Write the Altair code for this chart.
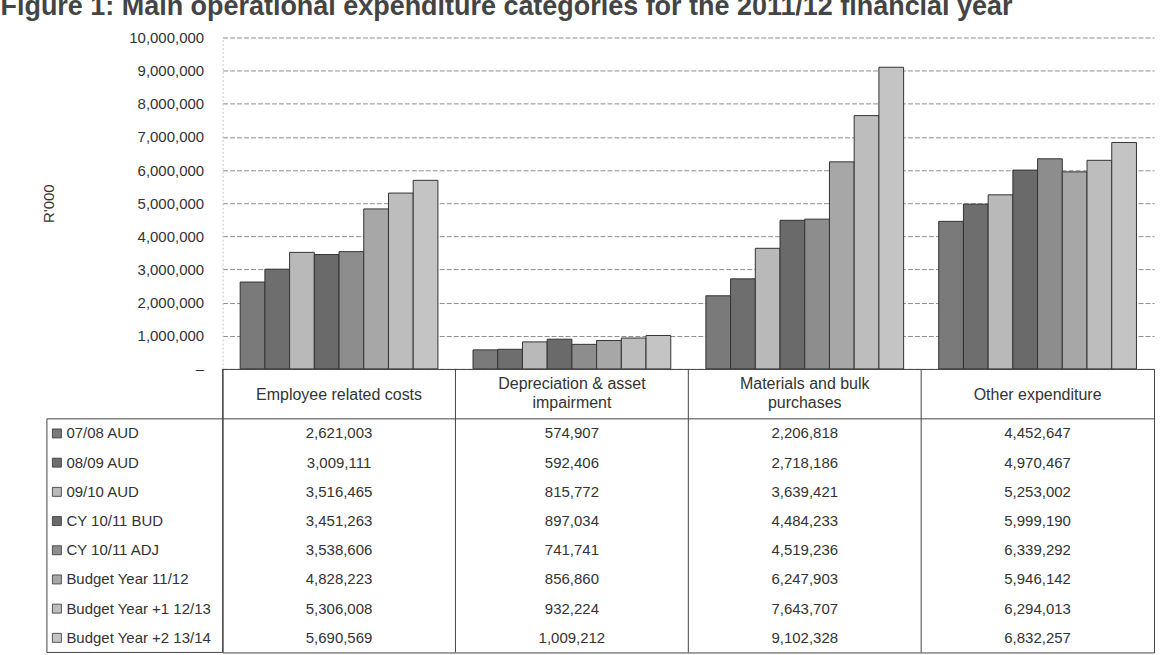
import altair as alt
import pandas as pd

TITLE = "Figure 1:  Main operational expenditure categories for the 2011/12 financial year"
CATEGORIES = [
    "Employee related costs",
    "Depreciation & asset impairment",
    "Materials and bulk purchases",
    "Other expenditure",
]
HEADER_LINES = [
    ["Employee related costs"],
    ["Depreciation & asset", "impairment"],
    ["Materials and bulk", "purchases"],
    ["Other expenditure"],
]
SERIES = [
    "07/08 AUD",
    "08/09 AUD",
    "09/10 AUD",
    "CY 10/11 BUD",
    "CY 10/11 ADJ",
    "Budget Year 11/12",
    "Budget Year +1 12/13",
    "Budget Year +2 13/14",
]
AUD_0708 = [2621003, 574907, 2206818, 4452647]
AUD_0809 = [3009111, 592406, 2718186, 4970467]
AUD_0910 = [3516465, 815772, 3639421, 5253002]
CY_BUD = [3451263, 897034, 4484233, 5999190]
CY_ADJ = [3538606, 741741, 4519236, 6339292]
BY_1112 = [4828223, 856860, 6247903, 5946142]
BY1_1213 = [5306008, 932224, 7643707, 6294013]
BY2_1314 = [5690569, 1009212, 9102328, 6832257]
SERIES_VALUES = [AUD_0708, AUD_0809, AUD_0910, CY_BUD, CY_ADJ, BY_1112, BY1_1213, BY2_1314]
COLORS = ["#7a7a7a", "#6e6e6e", "#b9b9b9", "#6a6a6a", "#8d8d8d", "#a7a7a7", "#bdbdbd", "#c4c4c4"]
Y_TICKS = [0, 1000000, 2000000, 3000000, 4000000, 5000000, 6000000, 7000000, 8000000, 9000000, 10000000]

rows = []
for s, vals in zip(SERIES, SERIES_VALUES):
    for c, v in zip(CATEGORIES, vals):
        rows.append({"category": c, "series": s, "value": v})
df = pd.DataFrame(rows)
series_df = pd.DataFrame({"series": SERIES})
cat_df = pd.DataFrame({"category": CATEGORIES})
first_row_df = pd.DataFrame({"series": SERIES[:1]})

W = 933
BAR_H = 332
TABLE_H = 284
TEXT = "#333333"

color = alt.Color("series:N", sort=SERIES, scale=alt.Scale(domain=SERIES, range=COLORS), legend=None)

# ---------- bar chart ----------
bars = alt.Chart(df).mark_bar(stroke="#333333", strokeWidth=1).encode(
    x=alt.X("category:N", sort=CATEGORIES, scale=alt.Scale(paddingInner=0, paddingOuter=0), axis=None),
    xOffset=alt.XOffset("series:N", sort=SERIES, scale=alt.Scale(paddingInner=0, paddingOuter=0.71)),
    y=alt.Y(
        "value:Q",
        scale=alt.Scale(domain=[0, 10000000], nice=False),
        axis=alt.Axis(
            values=Y_TICKS,
            labelExpr="datum.value == 0 ? '\u2013\u00a0\u00a0' : format(datum.value, ',')",
            labelFontSize=15,
            labelColor=TEXT,
            labelPadding=19,
            ticks=False,
            tickSize=0,
            domain=True,
            domainColor="#c8c8c8",
            domainDash=[2, 2],
            grid=True,
            gridColor="#8f8f8f",
            gridDash=[5, 2],
            gridWidth=1,
            title="R'000",
            titleFontSize=15,
            titleFontWeight="normal",
            titleColor=TEXT,
            titleAngle=270,
            titleX=-174,
            titleY=166,
            titleAlign="center",
            titleBaseline="middle",
        ),
    ),
    color=color,
).properties(width=W, height=BAR_H, view=alt.ViewBackground(stroke="transparent"))

# ---------- data table ----------
header_expr = ""
for c, lines in zip(CATEGORIES, HEADER_LINES):
    arr = "[" + ",".join("'" + l + "'" for l in lines) + "]"
    header_expr += "datum.value == '" + c + "' ? " + arr + " : "
header_expr += "datum.value"
two_line_test = " || ".join(
    "datum.value == '" + c + "'" for c, lines in zip(CATEGORIES, HEADER_LINES) if len(lines) > 1
)

x_axis = alt.Axis(
    orient="top", title=None, ticks=False, tickSize=0, domain=False, grid=False,
    labelPadding={"condition": {"test": two_line_test, "value": -15}, "value": -26},
    labelBaseline="middle", labelAngle=0, labelFontSize=16,
    labelLineHeight=19, labelColor=TEXT, labelLimit=240, labelOverlap=False,
    labelExpr=header_expr,
)
y_axis = alt.Axis(
    title=None, ticks=False, tickSize=0, domain=False, grid=False,
    labelAlign="left", labelBaseline="middle", labelPadding=157,
    labelFontSize=15, labelColor=TEXT, labelLimit=200,
)
x_scale = alt.Scale(domain=CATEGORIES, paddingInner=0, paddingOuter=0)
y_scale = alt.Scale(domain=SERIES, paddingInner=0, paddingOuter=0.855, align=1)


def xenc(**kw):
    return alt.X("category:N", sort=CATEGORIES, scale=x_scale, axis=x_axis, **kw)


def yenc(**kw):
    return alt.Y("series:N", sort=SERIES, scale=y_scale, axis=y_axis, **kw)


cells = alt.Chart(df).mark_text(fontSize=15, color=TEXT).encode(
    x=xenc(), y=yenc(), text=alt.Text("value:Q", format=",")
)
col_lines = alt.Chart(cat_df).mark_rule(color="#444444", strokeWidth=1).encode(x=xenc(bandPosition=0))
header_line = alt.Chart(first_row_df).mark_rule(color="#444444", strokeWidth=1).encode(
    y=yenc(bandPosition=0), x=alt.value(-176), x2=alt.value("width")
)
label_left = alt.Chart(first_row_df).mark_rule(color="#444444", strokeWidth=1).encode(
    y=yenc(bandPosition=0), y2=alt.value("height"), x=alt.value(-176)
)
label_bottom = alt.Chart(first_row_df).mark_rule(color="#444444", strokeWidth=1).encode(
    y=alt.value("height"), x=alt.value(-176), x2=alt.value(0)
)
swatches = alt.Chart(series_df).mark_square(size=81, stroke="#333333", strokeWidth=0.8, opacity=1).encode(
    y=yenc(), x=alt.value(-166), color=color
)

table = alt.layer(col_lines, header_line, label_left, label_bottom, swatches, cells).properties(
    width=W, height=TABLE_H, view=alt.ViewBackground(stroke="#444444", strokeWidth=1)
)

chart = alt.vconcat(bars, table, spacing=0, bounds="flush").properties(
    title=alt.TitleParams(
        TITLE, anchor="start", fontSize=27, fontWeight="bold", color="#444444", dx=-41, offset=9
    ),
    padding={"left": 0, "top": -8, "right": 7, "bottom": 2},
).configure(font="Liberation Sans")

chart.save("out.html", embed_options={"renderer": "svg", "actions": False})
